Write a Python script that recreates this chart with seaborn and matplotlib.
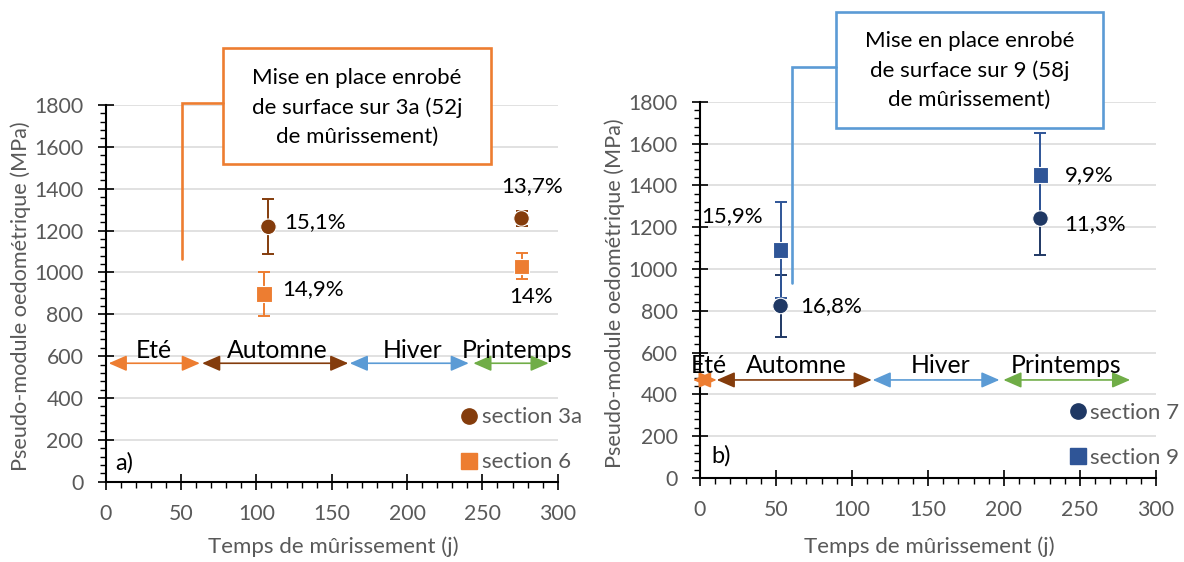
import matplotlib
matplotlib.use("Agg")
import matplotlib.pyplot as plt
from matplotlib.lines import Line2D
from matplotlib.patches import Rectangle, ArrowStyle
from matplotlib.ticker import MultipleLocator
import seaborn as sns
import pandas as pd

# ---------------- data : panel a ----------------
a_section = ["section 3a", "section 3a", "section 6", "section 6"]
a_days = [108, 276, 105, 276]
a_modulus = [1218, 1258, 896, 1029]
a_error = [132, 36, 105, 62]
a_pct = ["15,1%", "13,7%", "14,9%", "14%"]

# ---------------- data : panel b ----------------
b_section = ["section 7", "section 7", "section 9", "section 9"]
b_days = [53, 224, 53, 224]
b_modulus = [823, 1241, 1090, 1449]
b_error = [149, 175, 228, 200]
b_pct = ["16,8%", "11,3%", "15,9%", "9,9%"]

# seasons (days)
seasons = ["Eté", "Automne", "Hiver", "Printemps"]
season_colors = ["#ED7D31", "#843C0C", "#5B9BD5", "#70AD47"]
a_season_start = [2, 64, 162, 244]
a_season_end = [62.5, 161, 241, 294]
a_season_label_x = [32, 114, 204, 273]
b_season_start = [-4.6, 11, 113.6, 199.6]
b_season_end = [11, 113, 197, 283]
b_season_label_x = [5.5, 63.5, 158, 241]

a_note = "Mise en place enrobé\nde surface sur 3a (52j\nde mûrissement)"
b_note = "Mise en place enrobé\nde surface sur 9 (58j\nde mûrissement)"

x_ticks = [0, 50, 100, 150, 200, 250, 300]
y_ticks = [0, 200, 400, 600, 800, 1000, 1200, 1400, 1600, 1800]

# ---------------- styling ----------------
sns.set_theme(style="white")
plt.rcParams["font.family"] = ["Lato", "DejaVu Sans"]

GREY = "#595959"
palette = {"section 3a": "#843C0C", "section 6": "#ED7D31",
           "section 7": "#1F3864", "section 9": "#2F5597"}
markers = {"section 3a": "o", "section 6": "s", "section 7": "o", "section 9": "s"}

W, H = 1184, 562
fig = plt.figure(figsize=(W / 100, H / 100), dpi=100)
axA = fig.add_axes([105.7 / W, 1 - 481.7 / H, 452 / W, 376.7 / H])
axB = fig.add_axes([700 / W, 1 - 478 / H, 456 / W, 376.3 / H])

TICK_FS = 15.3
TXT_FS = 16
SEASON_FS = 17.8


def style_axes(ax):
    ax.set_xlim(0, 300)
    ax.set_ylim(0, 1800)
    ax.set_xticks(x_ticks)
    ax.set_yticks(y_ticks)
    ax.xaxis.set_minor_locator(MultipleLocator(10))
    ax.yaxis.set_minor_locator(MultipleLocator(40))
    for s in ["top", "right"]:
        ax.spines[s].set_visible(False)
    for s in ["left", "bottom"]:
        ax.spines[s].set_color("black")
        ax.spines[s].set_linewidth(1.5)
    ax.tick_params(which="major", direction="inout", length=11, width=1.2,
                   color="black", labelcolor=GREY, labelsize=TICK_FS)
    ax.tick_params(which="minor", direction="out", length=4.5, width=1.0, color="black")
    ax.tick_params(axis="y", which="major", pad=10.5, left=True)
    ax.tick_params(axis="x", which="major", pad=10.5, bottom=True)
    ax.tick_params(axis="y", which="minor", left=True)
    ax.tick_params(axis="x", which="minor", bottom=True)
    ax.yaxis.grid(True, color="#D9D9D9", linewidth=1.1)
    ax.xaxis.grid(False)
    ax.set_axisbelow(True)
    ax.set_xlabel("Temps de mûrissement (j)", fontsize=TXT_FS, color=GREY)
    ax.set_ylabel("Pseudo-module oedométrique (MPa)", fontsize=TXT_FS - 0.4, color=GREY)
    ax.xaxis.label.set_verticalalignment("center")
    ax.yaxis.label.set_verticalalignment("center")


def draw_panel(ax, section, days, modulus, error, pct, offsets, has):
    df = pd.DataFrame({"section": section, "days": days, "modulus": modulus, "error": error})
    for sec, sub in df.groupby("section", sort=False):
        ax.errorbar(sub["days"], sub["modulus"], yerr=sub["error"], fmt="none",
                    ecolor=palette[sec], elinewidth=1.4, capsize=4.3, capthick=1.4, zorder=3)
    sns.scatterplot(data=df, x="days", y="modulus", hue="section", style="section",
                    palette=palette, markers=markers, s=125, linewidth=0.8,
                    ax=ax, legend=False, zorder=4)
    for i in range(len(df)):
        ax.annotate(pct[i], (days[i], modulus[i]), xytext=offsets[i],
                    textcoords="offset pixels", ha=has[i], va="center",
                    fontsize=TXT_FS, color="black", zorder=5)


def draw_seasons(ax, starts, ends, ylev, label_x, ylab):
    for name, c, x0, x1, lx in zip(seasons, season_colors, starts, ends, label_x):
        ax.annotate("", xy=(x1, ylev), xytext=(x0, ylev), annotation_clip=False,
                    arrowprops=dict(arrowstyle=ArrowStyle("<|-|>", head_length=1.1, head_width=0.48),
                                    mutation_scale=10, color=c, lw=1.2,
                                    shrinkA=0, shrinkB=0), zorder=4)
        ax.text(lx, ylab, name, ha="center", va="center", fontsize=SEASON_FS,
                color="black", zorder=5, clip_on=False)


def draw_note(ax, text, box_x0, box_x1, box_y0, box_y1, line_x, line_y0, line_y1, color):
    ax.add_patch(Rectangle((box_x0, box_y0), box_x1 - box_x0, box_y1 - box_y0,
                           facecolor="white", edgecolor=color, linewidth=1.9,
                           clip_on=False, zorder=6))
    ax.plot([line_x, line_x, box_x0], [line_y0, line_y1, line_y1], color=color,
            linewidth=1.9, clip_on=False, zorder=6, solid_joinstyle="miter")
    ax.text((box_x0 + box_x1) / 2, (box_y0 + box_y1) / 2 - 4, text, ha="center", va="center",
            fontsize=TXT_FS, color="black", linespacing=1.55, zorder=7)


def draw_legend(ax, names, anchor):
    handles = [Line2D([], [], linestyle="none", marker=markers[n], color=palette[n],
                      markersize=11, label=n) for n in names]
    leg = ax.legend(handles=handles, loc="lower left", bbox_to_anchor=anchor,
                    frameon=False, fontsize=TXT_FS, handlelength=0.9, handletextpad=0.12,
                    labelspacing=1.12, borderpad=0, borderaxespad=0)
    for t in leg.get_texts():
        t.set_color(GREY)


# ---------------- panel a ----------------
style_axes(axA)
draw_panel(axA, a_section, a_days, a_modulus, a_error, a_pct,
           offsets=[(16, 5), (11, 32), (18, 5), (9, -31)],
           has=["left", "center", "left", "center"])
draw_seasons(axA, a_season_start, a_season_end, 566, a_season_label_x, 629)
draw_note(axA, a_note, 78, 255.7, 1516, 2071, 50.4, 1062, 1808, "#ED7D31")
draw_legend(axA, ["section 3a", "section 6"], (0.782, 0.025))
axA.text(6.2, 89, "a)", ha="left", va="center", fontsize=TXT_FS + 1, color="black")
axA.xaxis.set_label_coords(0.504, -0.173)
axA.yaxis.set_label_coords(-0.188, 0.493)

# ---------------- panel b ----------------
style_axes(axB)
draw_panel(axB, b_section, b_days, b_modulus, b_error, b_pct,
           offsets=[(20, 0), (24, -6), (-18, 34), (24, 0)],
           has=["left", "left", "right", "left"])
draw_seasons(axB, b_season_start, b_season_end, 469, b_season_label_x, 540)
draw_note(axB, b_note, 89.5, 265, 1675, 2230, 60.3, 932, 1967, "#5B9BD5")
draw_legend(axB, ["section 7", "section 9"], (0.806, 0.027))
axB.text(7.7, 108, "b)", ha="left", va="center", fontsize=TXT_FS + 1, color="black")
axB.xaxis.set_label_coords(0.502, -0.183)
axB.yaxis.set_label_coords(-0.187, 0.492)

fig.savefig("out.png", dpi=100, facecolor="white")
